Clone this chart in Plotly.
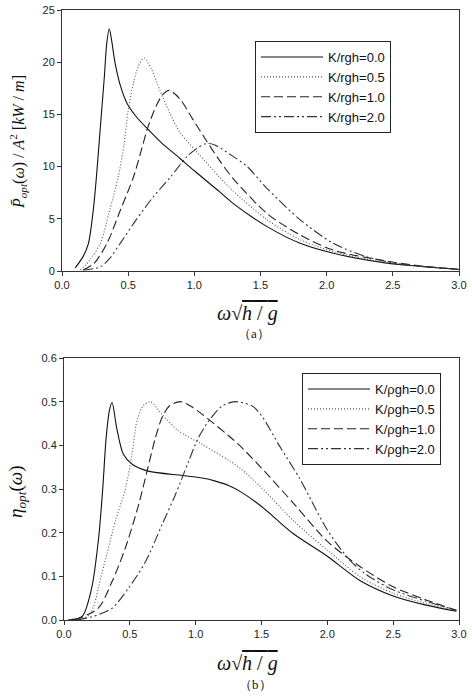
import plotly.graph_objects as go

W, H = 472, 699

# ---- panel (a): optimal absorbed power ----
names_a = ["K/rgh=0.0", "K/rgh=0.5", "K/rgh=1.0", "K/rgh=2.0"]

xa_0 = [0.10, 0.16, 0.20, 0.236, 0.26, 0.28, 0.30, 0.32, 0.338, 0.357, 0.375, 0.40, 0.44,
        0.49, 0.56, 0.64, 0.75, 0.89, 1.00, 1.19, 1.29, 1.55, 1.80, 2.05, 2.43, 2.70, 3.00]
ya_0 = [0.3, 1.4, 2.65, 5.8, 9.0, 12.2, 15.4, 18.6, 21.8, 23.2, 22.1, 20.0, 17.8,
        16.1, 14.8, 13.7, 12.3, 10.8, 9.6, 7.6, 6.5, 4.25, 2.65, 1.7, 0.8, 0.45, 0.15]

xa_05 = [0.14, 0.21, 0.29, 0.36, 0.425, 0.47, 0.50, 0.54, 0.576, 0.62, 0.677, 0.74, 0.816,
         0.89, 1.04, 1.19, 1.29, 1.55, 1.80, 2.05, 2.43, 2.70, 3.00]
ya_05 = [0.1, 1.05, 2.65, 5.8, 9.0, 12.2, 15.4, 18.0, 19.6, 20.4, 19.3, 17.3, 15.1,
         13.3, 11.1, 9.0, 7.7, 4.9, 3.0, 1.85, 0.85, 0.45, 0.15]

xa_1 = [0.16, 0.24, 0.34, 0.44, 0.54, 0.60, 0.65, 0.715, 0.765, 0.81, 0.89, 0.99, 1.09,
        1.19, 1.29, 1.55, 1.80, 2.05, 2.43, 2.70, 3.00]
ya_1 = [0.1, 0.7, 2.65, 5.8, 9.0, 11.6, 13.8, 15.9, 16.95, 17.3, 16.5, 14.5, 12.5,
        10.6, 8.9, 5.5, 3.45, 2.0, 1.0, 0.5, 0.15]

xa_2 = [0.16, 0.29, 0.36, 0.44, 0.56, 0.69, 0.82, 0.94, 1.02, 1.09, 1.15, 1.29, 1.40,
        1.55, 1.80, 2.05, 2.30, 2.55, 2.80, 3.00]
ya_2 = [0.1, 0.4, 1.2, 2.65, 4.9, 7.1, 9.0, 10.9, 11.75, 12.2, 12.1, 11.0, 10.0,
        7.9, 4.9, 2.65, 1.37, 0.67, 0.35, 0.15]

# ---- panel (b): optimal efficiency ----
names_b = ["K/ρgh=0.0", "K/ρgh=0.5", "K/ρgh=1.0", "K/ρgh=2.0"]

xb_0 = [0.03, 0.137, 0.21, 0.263, 0.294, 0.32, 0.345, 0.365, 0.40, 0.45, 0.52, 0.64,
        0.90, 1.05, 1.15, 1.25, 1.34, 1.50, 1.74, 2.00, 2.25, 2.50, 2.75, 2.98]
yb_0 = [0.0, 0.008, 0.073, 0.188, 0.30, 0.417, 0.48, 0.498, 0.44, 0.38, 0.356, 0.341,
        0.331, 0.325, 0.318, 0.308, 0.294, 0.26, 0.198, 0.146, 0.09, 0.055, 0.034, 0.020]

xb_05 = [0.05, 0.19, 0.29, 0.39, 0.466, 0.516, 0.554, 0.60, 0.656, 0.744, 0.87, 1.05,
         1.25, 1.34, 1.50, 1.75, 2.00, 2.25, 2.50, 2.75, 2.98]
yb_05 = [0.0, 0.011, 0.11, 0.226, 0.30, 0.38, 0.456, 0.49, 0.50, 0.471, 0.433, 0.402,
         0.366, 0.347, 0.303, 0.225, 0.160, 0.099, 0.061, 0.038, 0.021]

xb_1 = [0.08, 0.26, 0.365, 0.466, 0.567, 0.63, 0.694, 0.744, 0.80, 0.884, 0.96, 1.05,
        1.25, 1.34, 1.50, 1.75, 2.00, 2.25, 2.50, 2.75, 2.98]
yb_1 = [0.0, 0.027, 0.088, 0.165, 0.264, 0.34, 0.417, 0.463, 0.49, 0.50, 0.49, 0.471,
        0.422, 0.398, 0.348, 0.265, 0.180, 0.122, 0.076, 0.046, 0.022]

xb_2 = [0.10, 0.24, 0.365, 0.49, 0.62, 0.744, 0.846, 0.947, 1.02, 1.10, 1.20, 1.30, 1.43,
        1.50, 1.64, 1.79, 1.89, 2.00, 2.17, 2.30, 2.50, 2.75, 2.98]
yb_2 = [0.0, 0.01, 0.027, 0.073, 0.134, 0.218, 0.287, 0.364, 0.417, 0.456, 0.49, 0.50, 0.49,
        0.468, 0.397, 0.324, 0.267, 0.206, 0.137, 0.103, 0.069, 0.043, 0.022]

styles = [
    dict(color="#111", width=1.1, dash="solid"),
    dict(color="#555", width=1.1, dash="1px,2px"),
    dict(color="#222", width=1.1, dash="9px,4px"),
    dict(color="#333", width=1.1, dash="10px,3px,2px,3px,2px,3px"),
]


def fx(x):
    return x / W


def fy(y):
    return 1 - y / H


fig = go.Figure()

for name, xs, ys, st in zip(names_a, [xa_0, xa_05, xa_1, xa_2],
                            [ya_0, ya_05, ya_1, ya_2], styles):
    fig.add_trace(go.Scatter(x=xs, y=ys, mode="lines", name=name,
                             line=dict(shape="spline", smoothing=0.8, **st),
                             xaxis="x", yaxis="y", legend="legend"))

for name, xs, ys, st in zip(names_b, [xb_0, xb_05, xb_1, xb_2],
                            [yb_0, yb_05, yb_1, yb_2], styles):
    fig.add_trace(go.Scatter(x=xs, y=ys, mode="lines", name=name,
                             line=dict(shape="spline", smoothing=0.8, **st),
                             xaxis="x2", yaxis="y2", legend="legend2"))

tick_font = dict(family="Liberation Sans, Arial", size=11, color="#222")
axis_common = dict(showline=True, linecolor="#333", linewidth=1, mirror=True, ticks="outside",
                   ticklen=4, tickcolor="#333", showgrid=False, zeroline=False,
                   tickfont=tick_font, automargin=False)
legend_common = dict(xanchor="left", yanchor="top", bordercolor="#222", borderwidth=1,
                     bgcolor="white", itemwidth=62,
                     font=dict(family="Liberation Sans, Arial", size=13, color="#111"))

fig.update_layout(
    width=W, height=H,
    margin=dict(l=0, r=0, t=0, b=0, autoexpand=False),
    paper_bgcolor="white", plot_bgcolor="white",
    xaxis=dict(domain=[fx(62), fx(459)], range=[0, 3], dtick=0.5, tickformat=".1f",
               anchor="y", **axis_common),
    yaxis=dict(domain=[fy(271), fy(10)], range=[0, 25], dtick=5, anchor="x", **axis_common),
    xaxis2=dict(domain=[fx(64), fx(459)], range=[0, 3], dtick=0.5, tickformat=".1f",
                anchor="y2", **axis_common),
    yaxis2=dict(domain=[fy(620), fy(358)], range=[0, 0.6], dtick=0.1, tickformat=".1f",
                anchor="x2", **axis_common),
    legend=dict(x=fx(255), y=fy(41), **legend_common),
    legend2=dict(x=fx(302), y=fy(373), **legend_common),
    showlegend=True,
)

serif = "Liberation Serif, DejaVu Serif, serif"
xtitle = ("<i>ω</i>√<span style='text-decoration:overline'>"
          "<i>h</i> / <i>g</i></span>")
ann = [
    (247, 313, xtitle, 20, 0),
    (254, 333, "（a）", 13, 0),
    (247, 663, xtitle, 20, 0),
    (255, 684, "（b）", 13, 0),
    (18, 142, "<i>P̄</i><sub><i>opt</i></sub>(<i>ω</i>) / <i>A</i><sup>2</sup> [<i>kW</i> / <i>m</i>]", 16, -90),
    (17, 492, "<i>η</i><sub><i>opt</i></sub>(<i>ω</i>)", 19, -90),
]
for x, y, t, s, a in ann:
    fig.add_annotation(x=fx(x), y=fy(y), xref="paper", yref="paper", text=t, showarrow=False,
                       textangle=a, font=dict(family=serif, size=s, color="#111"),
                       xanchor="center", yanchor="middle")

# drop the default 8px body margin so the figure sits at the window origin
fig.write_html("out.html", config={"displayModeBar": False},
               post_script="document.body.style.margin='0';")
